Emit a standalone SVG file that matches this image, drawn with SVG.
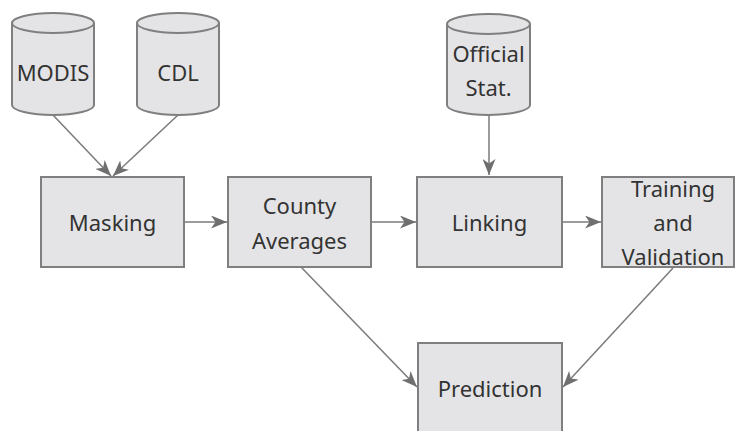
<svg xmlns="http://www.w3.org/2000/svg" width="735" height="431" viewBox="0 0 735 431">
<style>
.box{fill:#e4e4e6;stroke:#7f7f7f;stroke-width:2}
.lbl{font-family:"Noto Sans","Open Sans",sans-serif;font-size:22px;fill:#333;text-anchor:middle;dominant-baseline:central}
.edge{fill:none;stroke:#7a7a7a;stroke-width:1.5;marker-end:url(#arr)}
</style>
<defs>
<marker id="arr" markerUnits="userSpaceOnUse" markerWidth="17" markerHeight="13" refX="16" refY="6.5" orient="auto">
<path d="M0,0 L16,6.5 L0,13 L4.5,6.5 z" fill="#6f6f6f"/>
</marker>
</defs>
<rect width="735" height="431" fill="#fff"/>
<g id="edges">
<line class="edge" x1="53" y1="115" x2="111" y2="176"/>
<line class="edge" x1="178" y1="115" x2="113" y2="176"/>
<line class="edge" x1="184" y1="222" x2="227" y2="222"/>
<line class="edge" x1="371" y1="222" x2="416" y2="222"/>
<line class="edge" x1="489" y1="115" x2="489" y2="175"/>
<line class="edge" x1="562" y1="222" x2="601" y2="222"/>
<line class="edge" x1="301" y1="267" x2="417" y2="387"/>
<line class="edge" x1="673" y1="268" x2="563" y2="387"/>
</g>
<g id="modis">
<path class="box" d="M12,23 a41,10 0 0,1 82,0 v82 a41,10 0 0,1 -82,0 z"/>
<path class="box" style="fill:none" d="M12,23 a41,10 0 0,0 82,0"/>
<text class="lbl" x="53" y="72">MODIS</text>
</g>
<g id="cdl">
<path class="box" d="M137,23 a41,10 0 0,1 82,0 v82 a41,10 0 0,1 -82,0 z"/>
<path class="box" style="fill:none" d="M137,23 a41,10 0 0,0 82,0"/>
<text class="lbl" x="178" y="72">CDL</text>
</g>
<g id="official">
<path class="box" d="M447,24 a41.5,10 0 0,1 83,0 v81 a41.5,10 0 0,1 -83,0 z"/>
<path class="box" style="fill:none" d="M447,24 a41.5,10 0 0,0 83,0"/>
<text class="lbl" x="488.5" y="53">Official</text>
<text class="lbl" x="488.5" y="87">Stat.</text>
</g>
<g id="masking">
<rect class="box" x="41" y="177" width="143" height="90"/>
<text class="lbl" x="112.5" y="222">Masking</text>
</g>
<g id="county">
<rect class="box" x="228" y="177" width="143" height="90"/>
<text class="lbl" x="299.5" y="205">County</text>
<text class="lbl" x="299.5" y="240">Averages</text>
</g>
<g id="linking">
<rect class="box" x="417" y="177" width="145" height="90"/>
<text class="lbl" x="489.5" y="222">Linking</text>
</g>
<g id="training">
<rect class="box" x="602" y="177" width="132" height="90"/>
<text class="lbl" x="673" y="188">Training</text>
<text class="lbl" x="673" y="222">and</text>
<text class="lbl" x="673" y="256">Validation</text>
</g>
<g id="prediction">
<rect class="box" x="418" y="343" width="144" height="92"/>
<text class="lbl" x="490" y="388">Prediction</text>
</g>
</svg>
